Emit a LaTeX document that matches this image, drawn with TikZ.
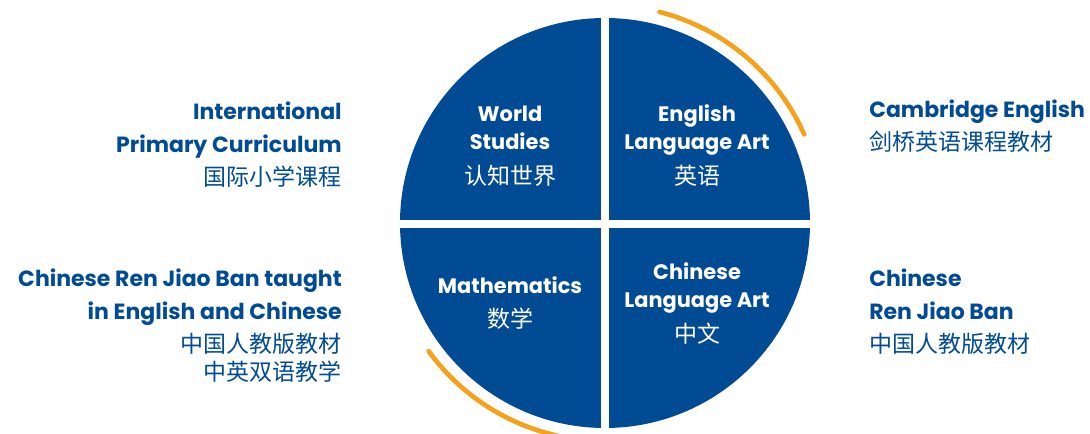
\documentclass[tikz,border=0pt]{standalone}
\usepackage{fontspec}
\usepackage{tikz}
\setmainfont{Poppins}
\newfontfamily\cjk{Noto Sans CJK SC}
\newcommand\zh[1]{{\cjk\mdseries\fontsize{17.25}{21}\selectfont #1}}
\definecolor{schoolblue}{RGB}{0,75,147}
\definecolor{arcorange}{RGB}{246,161,27}

\tikzset{
  sidetext/.style={text=schoolblue, inner sep=0pt, font=\fontsize{16.5}{24.75}\selectfont\bfseries},
  quadtext/.style={text=white, inner sep=0pt, align=center, anchor=base, font=\fontsize{15.7}{21}\selectfont\bfseries},
}

\begin{document}
\begin{tikzpicture}[x=0.75pt,y=0.75pt,yscale=-1]
\clip (0,0) rectangle (1090,434);

%Shape: Circle, four quarters
\fill [schoolblue] (605,223) circle (205);
\draw [white, line width=6pt] (605,10) -- (605,436);
\draw [white, line width=6pt] (392,224) -- (818,224);

%Orange arcs
\draw [arcorange, line width=3.5pt, line cap=round] (605,223) ++(-75.5:218) arc (-75.5:-24:218);
\draw [arcorange, line width=3.5pt, line cap=round] (605,223) ++(144:218) arc (144:95:218);

%Quarter labels (anchored on the last line)
\node [quadtext] (world) at (510,185) {World\\Studies\\[5.25pt]\zh{认知世界}};
\node [quadtext] (ela) at (697,185) {English\\Language Art\\[5.25pt]\zh{英语}};
\node [quadtext] (maths) at (510,328) {Mathematics\\[4.5pt]\zh{数学}};
\node [quadtext] (cla) at (697,343) {Chinese\\Language Art\\[5.25pt]\zh{中文}};

%Side labels
\node [sidetext, align=right, anchor=base east] (ipc) at (342,186) {International\\Primary Curriculum\\\zh{国际小学课程}};
\node [sidetext, align=right, anchor=base east] (rjbboth) at (342,381) {Chinese Ren Jiao Ban taught\\in English and Chinese\\\zh{中国人教版教材}\\[-3.75pt]\zh{中英双语教学}};
\node [sidetext, align=left, anchor=base west] (cambridge) at (869,151) {Cambridge English\\\zh{剑桥英语课程教材}};
\node [sidetext, align=left, anchor=base west] (rjb) at (869,353) {Chinese\\Ren Jiao Ban\\\zh{中国人教版教材}};

\end{tikzpicture}
\end{document}
